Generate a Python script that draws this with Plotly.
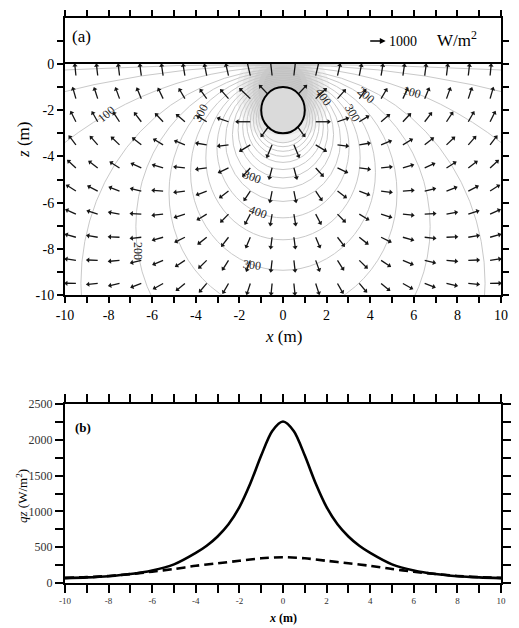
import math
import plotly.graph_objects as go

# ---------------- data ----------------
# Panel (a): flux-arrow grid (tail points) in metres
arrow_x = [-9.5, -8.5, -7.5, -6.5, -5.5, -4.5, -3.5, -2.5, -1.5, -0.5,
           0.5, 1.5, 2.5, 3.5, 4.5, 5.5, 6.5, 7.5, 8.5, 9.5]
arrow_z = [-0.5, -1.5, -2.5, -3.5, -4.5, -5.5, -6.5, -7.5, -8.5, -9.5]

# arrow direction (degrees, counter-clockwise from +x), one row per depth
arrow_angle = [
    [96, 97, 97, 98, 99, 100, 102, 104, 104, 97, 83, 76, 76, 78, 80, 81, 82, 83, 83, 84],
    [107, 109, 111, 114, 117, 122, 127, 133, 138, 135, 45, 42, 47, 53, 58, 63, 66, 69, 71, 73],
    [118, 121, 125, 129, 135, 141, 150, 162, 180, -128, -52, 0, 18, 30, 39, 45, 51, 55, 59, 62],
    [129, 133, 138, 143, 150, 159, 171, -173, -150, -114, -66, -30, -7, 9, 21, 30, 37, 42, 47, 51],
    [139, 144, 149, 156, 164, 174, -173, -156, -134, -106, -74, -46, -24, -7, 6, 16, 24, 31, 36, 41],
    [149, 154, 160, 167, 176, -173, -160, -144, -125, -102, -78, -55, -36, -20, -7, 4, 13, 20, 26, 31],
    [157, 163, 170, 177, -174, -163, -150, -136, -119, -100, -80, -61, -44, -30, -17, -6, 3, 10, 17, 23],
    [165, 171, 178, -174, -165, -155, -143, -129, -114, -98, -82, -66, -51, -37, -25, -15, -6, 2, 9, 15],
    [172, 178, -175, -167, -158, -148, -137, -124, -111, -97, -83, -69, -56, -43, -32, -22, -13, -5, 2, 8],
    [179, -175, -168, -160, -152, -142, -132, -121, -109, -96, -84, -71, -59, -48, -38, -28, -20, -12, -5, 1],
]

# arrow magnitude as drawn (W/m2, same scale as the 1000 W/m2 key arrow)
arrow_flux = [
    [580, 580, 580, 580, 580, 580, 580, 600, 1000, 1300, 1300, 1000, 600, 580, 580, 580, 580, 580, 580, 580],
    [580, 580, 580, 580, 580, 580, 580, 620, 780, 1000, 1000, 780, 620, 580, 580, 580, 580, 580, 580, 580],
    [580, 580, 580, 580, 580, 580, 580, 620, 780, 1000, 1000, 780, 620, 580, 580, 580, 580, 580, 580, 580],
    [580, 580, 580, 580, 580, 580, 580, 580, 660, 700, 700, 660, 580, 580, 580, 580, 580, 580, 580, 580],
    [580, 580, 580, 580, 580, 580, 580, 580, 580, 580, 580, 580, 580, 580, 580, 580, 580, 580, 580, 580],
    [580, 580, 580, 580, 580, 580, 580, 580, 580, 580, 580, 580, 580, 580, 580, 580, 580, 580, 580, 580],
    [580, 580, 580, 580, 580, 580, 580, 580, 580, 580, 580, 580, 580, 580, 580, 580, 580, 580, 580, 580],
    [580, 580, 580, 580, 580, 580, 580, 580, 580, 580, 580, 580, 580, 580, 580, 580, 580, 580, 580, 580],
    [580, 580, 580, 580, 580, 580, 580, 580, 580, 580, 580, 580, 580, 580, 580, 580, 580, 580, 580, 580],
    [580, 580, 580, 580, 580, 580, 580, 580, 580, 580, 580, 580, 580, 580, 580, 580, 580, 580, 580, 580],
]
key_flux = 1000  # W/m2

# isotherm contour circles (centre depth and radius, m)
isotherm_center_z = [-200.0, -44.47, -17.03, -9.49, -7.04, -5.59, -4.69, -4.07, -3.63,
                     -3.31, -3.06, -2.87, -2.72, -2.60, -2.50, -2.42, -2.35, -2.29]
isotherm_radius = [199.99, 44.43, 16.91, 9.27, 6.75, 5.23, 4.24, 3.54, 3.03,
                   2.64, 2.32, 2.06, 1.85, 1.66, 1.50, 1.36, 1.23, 1.12]

# contour labels
contour_text = ["100", "300", "400", "300", "200", "100", "300", "400", "300", "200"]
contour_lx = [-8.1, -3.8, 1.85, 3.2, 3.8, 5.9, -1.4, -1.15, -1.4, -6.65]
contour_lz = [-2.15, -2.1, -1.45, -2.1, -1.35, -1.2, -4.9, -6.4, -8.7, -8.1]
contour_rot = [-40, -62, 55, 60, 40, 15, 20, 20, 8, 90]

# buried pipe
pipe_x, pipe_z, pipe_r = 0.0, -2.0, 1.0

# tick labels
x_ticks = [-10, -8, -6, -4, -2, 0, 2, 4, 6, 8, 10]
x_ticklabels = ["-10", "-8", "-6", "-4", "-2", "0", "2", "4", "6", "8", "10"]
z_ticks = [-10, -8, -6, -4, -2, 0]
z_ticklabels = ["-10", "-8", "-6", "-4", "-2", "0"]
q_ticks = [0, 500, 1000, 1500, 2000, 2500]

# Panel (b): vertical surface flux profile
profile_x = [-10, -9, -8, -7, -6, -5, -4, -3.5, -3, -2.5, -2, -1.5, -1, -0.5, 0,
             0.5, 1, 1.5, 2, 2.5, 3, 3.5, 4, 5, 6, 7, 8, 9, 10]
qz_solid = [68, 78, 95, 125, 175, 260, 420, 520, 650, 820, 1060, 1390, 1780, 2120, 2255,
            2120, 1780, 1390, 1060, 820, 650, 520, 420, 260, 175, 125, 95, 78, 68]
dashed_x = [-10, -9, -8, -7, -6, -5, -4, -3, -2, -1, 0, 1, 2, 3, 4, 5, 6, 7, 8, 9, 10]
qz_dashed = [72, 82, 98, 125, 158, 195, 240, 275, 310, 345, 360, 345, 310, 275, 240, 195,
             158, 125, 98, 82, 72]

# ---------------- styling ----------------
SERIF = "Liberation Serif, Times New Roman, serif"
M_PER_FLUX = 0.76 / 1000.0     # drawn arrow length per W/m2 (m)
PX_PER_M = 22.3

fig = go.Figure()

# arrows (shafts + heads)
sx, sy, hx, hy, hang = [], [], [], [], []
for i, z0 in enumerate(arrow_z):
    for j, x0 in enumerate(arrow_x):
        a = math.radians(arrow_angle[i][j])
        L = arrow_flux[i][j] * M_PER_FLUX
        x1, z1 = x0 + L * math.cos(a), z0 + L * math.sin(a)
        sx += [x0, x1, None]
        sy += [z0, z1, None]
        hx.append(x1)
        hy.append(z1)
        hang.append(90 - arrow_angle[i][j])

fig.add_trace(go.Scatter(x=sx, y=sy, mode="lines", line=dict(color="#151515", width=1.3),
                         hoverinfo="skip", showlegend=False, xaxis="x", yaxis="y"))
fig.add_trace(go.Scatter(x=hx, y=hy, mode="markers",
                         marker=dict(symbol="triangle-up", size=4.5, color="#151515",
                                     angle=hang, line=dict(width=0)),
                         hoverinfo="skip", showlegend=False, xaxis="x", yaxis="y"))
# empty trace so the top (air) band of panel (a) is drawn
fig.add_trace(go.Scatter(x=[None], y=[None], mode="markers", showlegend=False,
                         hoverinfo="skip", xaxis="x2", yaxis="y2"))

# panel (b) curves
fig.add_trace(go.Scatter(x=profile_x, y=qz_solid, mode="lines",
                         line=dict(color="black", width=2.6, shape="spline", smoothing=0.8),
                         showlegend=False, xaxis="x3", yaxis="y3"))
fig.add_trace(go.Scatter(x=dashed_x, y=qz_dashed, mode="lines",
                         line=dict(color="black", width=2.6, dash="9px,5px", shape="spline",
                                   smoothing=0.8),
                         showlegend=False, xaxis="x3", yaxis="y3"))

shapes = []
# grey shading of the strong-flux zone around the pipe
shade_c = [-1.25, -1.2, -1.15, -1.1, -1.05, -1.0]
shade_r = [2.15, 1.9, 1.65, 1.4, 1.15, 0.9]
for c, r in zip(shade_c, shade_r):
    shapes.append(dict(type="circle", xref="x", yref="y", x0=pipe_x - r, x1=pipe_x + r,
                       y0=c - r, y1=c + r, fillcolor="rgba(0,0,0,0.045)",
                       line=dict(width=0), layer="below"))
# isotherm contours
for c, r in zip(isotherm_center_z, isotherm_radius):
    shapes.append(dict(type="circle", xref="x", yref="y", x0=-r, x1=r, y0=c - r, y1=c + r,
                       line=dict(color="#c9c9c9", width=1), fillcolor="rgba(0,0,0,0)",
                       layer="below"))
# the pipe
shapes.append(dict(type="circle", xref="x", yref="y", x0=pipe_x - pipe_r, x1=pipe_x + pipe_r,
                   y0=pipe_z - pipe_r, y1=pipe_z + pipe_r, fillcolor="#dadada",
                   line=dict(color="black", width=2), layer="above"))

W, H = 519, 628
ML, MR, MT, MB = 65, 8, 18, 45
PW, PH = W - ML - MR, H - MT - MB


def px(xp):
    return (xp - ML) / PW


def py(yp):
    return (H - MB - yp) / PH


def note(xp, yp, text, size, angle=0, color="black"):
    return dict(x=px(xp), y=py(yp), xref="paper", yref="paper", text=text,
                showarrow=False, textangle=angle, xanchor="center", yanchor="middle",
                font=dict(family=SERIF, size=size, color=color))


annotations = []
for t, x, z, r in zip(contour_text, contour_lx, contour_lz, contour_rot):
    annotations.append(dict(x=x, y=z, xref="x", yref="y", text=t, showarrow=False,
                            textangle=r, xanchor="center", yanchor="middle",
                            font=dict(family=SERIF, size=12, color="#222")))

annotations += [
    note(82, 36, "(a)", 17),
    dict(x=px(393), y=py(41), xref="paper", yref="paper", text="", showarrow=True,
         ax=-key_flux * M_PER_FLUX * PX_PER_M, ay=0, arrowhead=2, arrowsize=0.9,
         arrowwidth=1.3, arrowcolor="black", xanchor="center", yanchor="middle"),
    note(411, 41, "1000", 14),
    note(466, 39, "W/m<sup>2</sup>", 17),
    note(288, 336, "<i>x</i> (m)", 17),
    note(22, 140, "<i>z</i> (m)", 17, angle=-90),
    note(83, 427, "<b>(b)</b>", 13),
    note(21, 496, "<i>qz</i> (W/m<sup>2</sup>)", 13, angle=-90),
    note(288, 618, "<b><i>x</i> (m)</b>", 12),
]

common = dict(showgrid=False, zeroline=False, showline=True, linecolor="black",
              linewidth=2, ticks="outside", tickcolor="black", tickwidth=1.5)

ya_dom = [py(295), py(64)]
yb_dom = [py(64), 1.0]
y3_dom = [0.0, py(404)]

fig.update_layout(
    width=W, height=H, margin=dict(l=ML, r=MR, t=MT, b=MB),
    paper_bgcolor="white", plot_bgcolor="white",
    shapes=shapes, annotations=annotations,
    xaxis=dict(**common, range=[-10, 10], domain=[0, 1], anchor="y", mirror=True,
               tickmode="array", tickvals=x_ticks, ticktext=x_ticklabels, ticklen=6,
               minor=dict(dtick=1, tick0=-10, ticks="outside", ticklen=6, tickwidth=1.5,
                          tickcolor="black"),
               tickfont=dict(family=SERIF, size=14, color="black")),
    yaxis=dict(**common, range=[-10, 0], domain=ya_dom, anchor="x", mirror="ticks",
               tickmode="array", tickvals=z_ticks, ticktext=z_ticklabels, ticklen=6,
               minor=dict(dtick=1, tick0=-10, ticks="outside", ticklen=6, tickwidth=1.5,
                          tickcolor="black"),
               tickfont=dict(family=SERIF, size=14, color="black")),
    xaxis2=dict(**common, range=[-10, 10], domain=[0, 1], anchor="y2", side="top",
                mirror=False, tickmode="linear", tick0=-10, dtick=1, ticklen=6,
                showticklabels=False),
    yaxis2=dict(**common, range=[0, 2], domain=yb_dom, anchor="x2", mirror="ticks",
                tickmode="array", tickvals=[1], ticklen=6, showticklabels=False),
    xaxis3=dict(**common, range=[-10, 10], domain=[0, 1], anchor="y3", mirror="ticks",
                tickmode="array", tickvals=x_ticks, ticktext=x_ticklabels, ticklen=8,
                minor=dict(dtick=1, tick0=-10, ticks="outside", ticklen=8, tickwidth=1.5,
                           tickcolor="black"),
                tickfont=dict(family=SERIF, size=9, color="#333")),
    yaxis3=dict(**common, range=[0, 2500], domain=y3_dom, anchor="x3", mirror="ticks",
                tickmode="array", tickvals=q_ticks, ticklen=8,
                minor=dict(dtick=250, tick0=0, ticks="outside", ticklen=8, tickwidth=1.5,
                           tickcolor="black"),
                tickfont=dict(family=SERIF, size=12, color="#333")),
)

fig.write_html("out.html")
